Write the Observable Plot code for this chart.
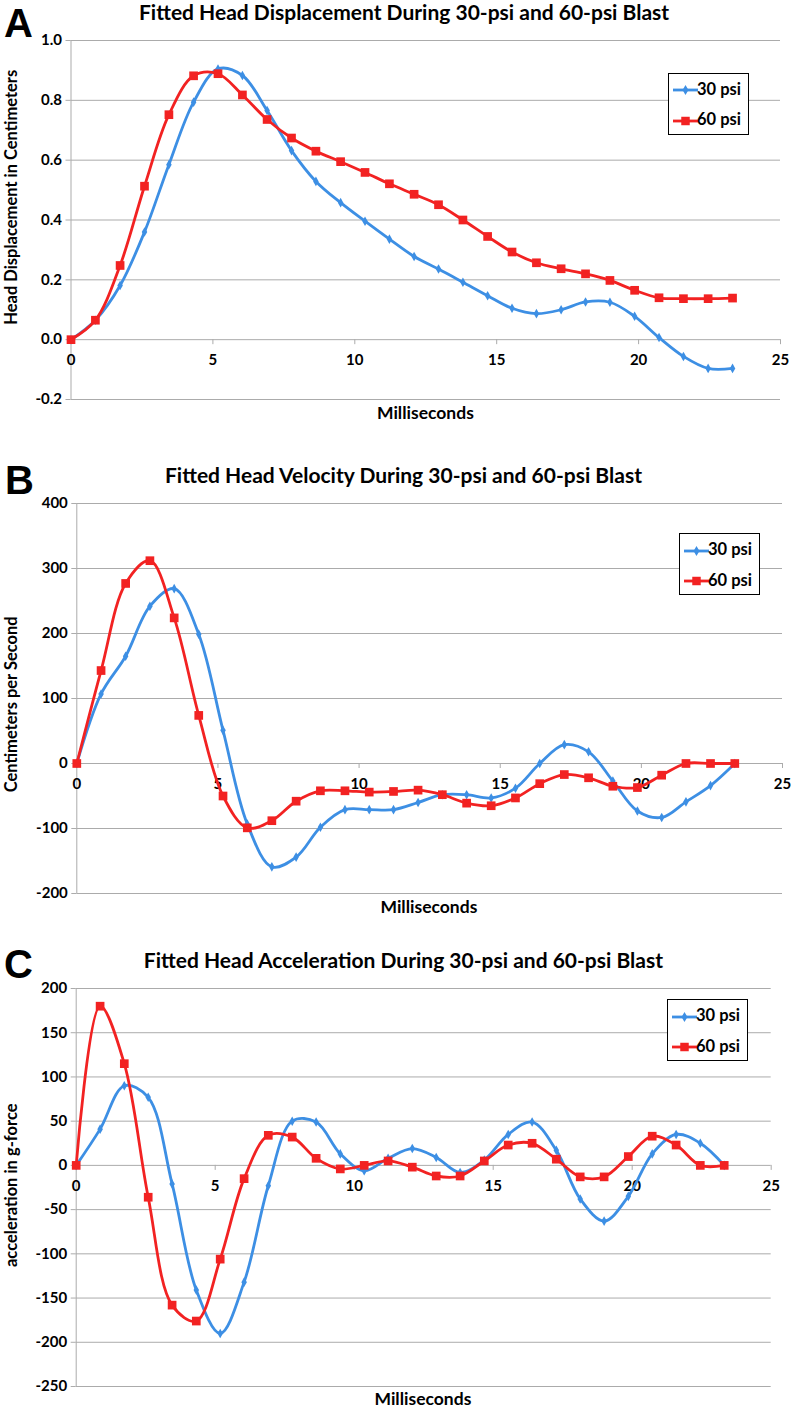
<!DOCTYPE html>
<html><head><meta charset="utf-8">
<script src="https://cdn.jsdelivr.net/npm/d3@7"></script>
<script src="https://cdn.jsdelivr.net/npm/@observablehq/plot@0.6"></script>
<style>
body{margin:0;background:#fff;}
#root{position:relative;width:792px;height:1410px;overflow:hidden;background:#fff;}
#root > svg{position:absolute;left:0;background:transparent;}
.t{position:absolute;white-space:nowrap;line-height:1.2;font-family:Lato,sans-serif;font-weight:700;color:#000;}
.yl{line-height:1;}
.letter{position:absolute;font-family:"Liberation Sans",Arial,sans-serif;font-weight:700;font-size:40px;line-height:1;color:#000;}
.legend{position:absolute;border:1.5px solid #000;background:#fff;box-sizing:border-box;width:81px;height:62px;}
</style></head><body><div id="root"></div>
<script>
// ---- data ----
const time = [0, 0.86, 1.73, 2.59, 3.45, 4.32, 5.18, 6.04, 6.91, 7.77, 8.63, 9.50, 10.36, 11.22, 12.09, 12.95, 13.81, 14.68, 15.54, 16.40, 17.27, 18.13, 18.99, 19.86, 20.72, 21.58, 22.45, 23.31];
const disp30 = [0, 0.065, 0.181, 0.36, 0.585, 0.794, 0.905, 0.883, 0.766, 0.632, 0.529, 0.458, 0.396, 0.336, 0.278, 0.236, 0.192, 0.147, 0.105, 0.087, 0.10, 0.126, 0.125, 0.078, 0.007, -0.056, -0.096, -0.096];
const disp60 = [0, 0.065, 0.248, 0.513, 0.752, 0.882, 0.889, 0.818, 0.736, 0.674, 0.630, 0.595, 0.559, 0.521, 0.486, 0.451, 0.400, 0.345, 0.293, 0.257, 0.237, 0.220, 0.198, 0.165, 0.140, 0.137, 0.137, 0.139];
const vel30 = [0, 107, 165, 242, 269, 199, 51, -93, -159, -144, -98, -71, -71, -71, -60, -48, -48, -53, -38, 0, 29, 18, -27, -73, -83, -59, -34, 0];
const vel60 = [0, 143, 277, 312, 224, 74, -50, -99, -88, -58, -42, -42, -44, -43, -41, -48, -61, -65, -53, -31, -17, -22, -35, -37, -18, 0, 0, 0];
const acc30 = [0, 41, 90, 77, -21, -141, -190, -132, -23, 50, 49, 13, -6, 8, 19, 9, -8, 6, 35, 49, 17, -38, -63, -35, 13, 35, 25, 0];
const acc60 = [0, 180, 115, -36, -158, -176, -106, -15, 34, 32, 8, -4, 0, 5, -2, -12, -12, 5, 23, 25, 7, -13, -13, 10, 33, 23, 0, 0];
const xTicks = [0, 5, 10, 15, 20, 25];
const dispTicks = [-0.2, 0, 0.2, 0.4, 0.6, 0.8, 1.0];
const velTicks = [-200, -100, 0, 100, 200, 300, 400];
const accTicks = [-250, -200, -150, -100, -50, 0, 50, 100, 150, 200];
const seriesNames = ["30 psi", "60 psi"];
const panelLetters = ["A", "B", "C"];
const titles = [
  "Fitted Head Displacement During 30-psi and 60-psi Blast",
  "Fitted Head Velocity During 30-psi and 60-psi Blast",
  "Fitted Head Acceleration During 30-psi and 60-psi Blast"
];
const yLabels = ["Head Displacement in Centimeters", "Centimeters per Second", "acceleration in g-force"];
const xLabel = "Milliseconds";

// ---- style ----
const BLUE = "#3d8fe4", RED = "#f22222", GRID = "#ababab";
const TICKFONT = 15;
const root = document.getElementById("root");

function panel(cfg) {
  const rows30 = time.map((t, i) => ({t, v: cfg.s30[i]}));
  const rows60 = time.map((t, i) => ({t, v: cfg.s60[i]}));
  const plotH = cfg.height - cfg.mt - cfg.mb;
  const tickLen = (cfg.yDomain[1] - cfg.yDomain[0]) / plotH * 5;
  const svg = Plot.plot({
    width: 792, height: cfg.height,
    marginTop: cfg.mt, marginBottom: cfg.mb, marginLeft: cfg.ml, marginRight: cfg.mr,
    x: {domain: [0, 25], axis: null},
    y: {domain: cfg.yDomain, axis: null},
    style: {fontFamily: "Lato, sans-serif", fontWeight: "bold", background: "transparent", overflow: "visible"},
    marks: [
      Plot.gridY(cfg.yTicks, {stroke: GRID, strokeOpacity: 1}),
      Plot.axisY(cfg.yTicks, {tickSize: 5, tickPadding: 4, tickFormat: cfg.fmt, label: null,
        stroke: GRID, fill: "#000", fontSize: TICKFONT, fontWeight: "bold"}),
      Plot.ruleX([0], {stroke: GRID}),
      Plot.ruleX(xTicks, {x: d => d, y1: 0, y2: -tickLen, stroke: GRID}),
      Plot.text(xTicks, {x: d => d, y: 0, dy: 21, text: d => String(d), fontSize: TICKFONT, fontWeight: "bold", fill: "#000"}),
      Plot.line(rows30, {x: "t", y: "v", stroke: BLUE, strokeWidth: 2.8, curve: "catmull-rom"}),
      Plot.dot(rows30, {x: "t", y: "v", symbol: "diamond", r: 2.9, fill: BLUE}),
      Plot.line(rows60, {x: "t", y: "v", stroke: RED, strokeWidth: 2.8, curve: "catmull-rom"}),
      Plot.dot(rows60, {x: "t", y: "v", symbol: "square", r: 4.9, fill: RED})
    ]
  });
  svg.style.top = cfg.top + "px";
  root.appendChild(svg);
}

function text(str, {cx, baseline, size}) {
  const d = document.createElement("div");
  d.className = "t";
  d.textContent = str;
  d.style.fontSize = size + "px";
  d.style.top = (baseline - 0.987 * size) + "px";
  root.appendChild(d);
  d.style.left = (cx - d.offsetWidth / 2) + "px";
  return d;
}
function ytext(str, {cy, baselineX, size}) {
  const d = document.createElement("div");
  d.className = "t yl";
  d.textContent = str;
  d.style.fontSize = size + "px";
  root.appendChild(d);
  const w = d.offsetWidth, h = d.offsetHeight;
  const cx = baselineX - 0.387 * size;
  d.style.left = (cx - w / 2) + "px";
  d.style.top = (cy - h / 2) + "px";
  d.style.transform = "rotate(-90deg)";
}
function letter(str, left, baseline) {
  const d = document.createElement("div");
  d.className = "letter";
  d.textContent = str;
  d.style.left = left + "px"; d.style.top = (baseline - 0.8465 * 40) + "px";
  root.appendChild(d);
}
function legend(left, top) {
  const box = document.createElement("div");
  box.className = "legend";
  box.style.left = left + "px"; box.style.top = top + "px";
  root.appendChild(box);
  const specs = [
    {name: seriesNames[0], color: BLUE, sym: d3.symbolDiamond, size: 30, cy: 18},
    {name: seriesNames[1], color: RED, sym: d3.symbolSquare, size: 72, cy: 48.5}
  ];
  const NS = "http://www.w3.org/2000/svg";
  for (const s of specs) {
    const sv = document.createElementNS(NS, "svg");
    sv.setAttribute("width", 30); sv.setAttribute("height", 14);
    sv.style.position = "absolute";
    sv.style.left = "2px"; sv.style.top = (s.cy - 1.5 - 7) + "px";
    const ln = document.createElementNS(NS, "line");
    ln.setAttribute("x1", 2); ln.setAttribute("x2", 27); ln.setAttribute("y1", 7); ln.setAttribute("y2", 7);
    ln.setAttribute("stroke", s.color); ln.setAttribute("stroke-width", 2.8);
    sv.appendChild(ln);
    const p = document.createElementNS(NS, "path");
    p.setAttribute("d", d3.symbol(s.sym, s.size)());
    p.setAttribute("transform", "translate(14.5,7)");
    p.setAttribute("fill", s.color);
    sv.appendChild(p);
    box.appendChild(sv);
    const t = document.createElement("div");
    t.className = "t"; t.textContent = s.name; t.style.fontSize = "16.5px";
    t.style.left = "28px";
    t.style.top = (s.cy - 1.5 + 5.9 - 0.987 * 16.5) + "px";
    box.appendChild(t);
  }
}

panel({top: 0, height: 409, mt: 40, mb: 10, ml: 70.5, mr: 12, yDomain: [-0.2, 1.0], yTicks: dispTicks,
  fmt: d => d.toFixed(1), s30: disp30, s60: disp60});
panel({top: 440, height: 463, mt: 63, mb: 10, ml: 76.3, mr: 10, yDomain: [-200, 400], yTicks: velTicks,
  fmt: d => String(d), s30: vel30, s60: vel60});
panel({top: 930, height: 466, mt: 58, mb: 10, ml: 75.7, mr: 21.3, yDomain: [-250, 200], yTicks: accTicks,
  fmt: d => String(d), s30: acc30, s60: acc60});

letter(panelLetters[0], 4, 36.4);
letter(panelLetters[1], 5, 494);
letter(panelLetters[2], 4, 978);

text(titles[0], {cx: 404, baseline: 19.8, size: 21});
text(titles[1], {cx: 403.5, baseline: 482.5, size: 21});
text(titles[2], {cx: 403.3, baseline: 968, size: 21});

text(xLabel, {cx: 425.5, baseline: 419, size: 17.5});
text(xLabel, {cx: 429, baseline: 913, size: 17.5});
text(xLabel, {cx: 423, baseline: 1405, size: 17.5});

ytext(yLabels[0], {cy: 197.5, baselineX: 17.5, size: 16.5});
ytext(yLabels[1], {cy: 704, baselineX: 17, size: 16.5});
ytext(yLabels[2], {cy: 1185, baselineX: 17, size: 16.5});

legend(668, 72.7);
legend(679, 533);
legend(667, 999);
</script></body></html>
